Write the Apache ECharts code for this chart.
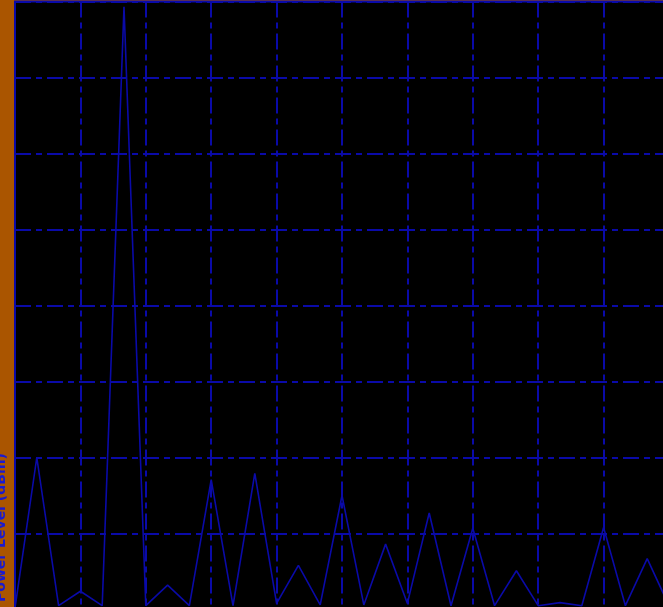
<!DOCTYPE html>
<html>
<head>
<meta charset="utf-8">
<script src="https://cdn.jsdelivr.net/npm/echarts@6/dist/echarts.min.js"></script>
<style>
html,body{margin:0;padding:0;background:#aa5500;}
#chart{width:663px;height:607px;}
</style>
</head>
<body>
<div id="chart"></div>
<script>
// Sample index along the x axis
var xIndex = [0,1,2,3,4,5,6,7,8,9,10,11,12,13,14,15,16,17,18,19,20,21,22,23,24,25,26,27,28,29,30];
// Magnitude values
var magnitude = [0.02,2.0,0.05,0.24,0.05,7.93,0.05,0.32,0.05,1.71,0.05,1.79,0.08,0.58,0.06,1.5,0.06,0.86,0.08,1.27,0.05,1.07,0.05,0.51,0.05,0.09,0.05,1.08,0.05,0.67,0.05];
var yAxisTitle = 'Power Level (dBm)';

var blue = '#0a0aa8';
var chart = echarts.init(document.getElementById('chart'), null, {renderer:'canvas'});
var pts = xIndex.map(function(x,i){return [x, magnitude[i]];});
chart.setOption({
  backgroundColor: '#aa5500',
  animation: false,
  grid: {left: 15, top: 1.5, width: 654, height: 608, show: true, backgroundColor: '#000000', borderColor: blue, borderWidth: 2,
    outerBoundsMode: 'none', containLabel: false},
  xAxis: {type: 'value', min: 0, max: 30, interval: 3,
    axisLine: {show: false}, axisTick: {show: false}, axisLabel: {show: false},
    splitLine: {show: true, lineStyle: {color: blue, width: 2, type: [16,5,6,5]}}},
  yAxis: {type: 'value', min: 0, max: 8, interval: 1,
    axisLine: {show: false}, axisTick: {show: false}, axisLabel: {show: false},
    splitLine: {show: true, lineStyle: {color: blue, width: 2, type: [16,5,6,5]}}},
  graphic: [{type: 'text', x: 8, y: 602, rotation: Math.PI/2,
    style: {text: yAxisTitle, fill: '#1a1ad0', font: 'bold 14px "DejaVu Sans", sans-serif', textAlign: 'left', textVerticalAlign: 'bottom'}}],
  series: [{type: 'line', data: pts, showSymbol: false, symbol: 'none',
    lineStyle: {color: blue, width: 1.6}, clip: true}]
});
</script>
</body>
</html>
